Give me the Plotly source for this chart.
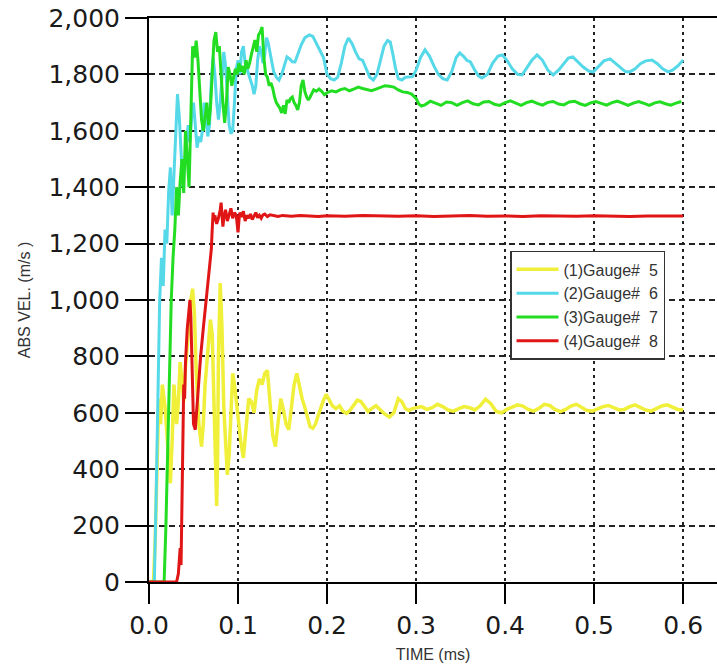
import plotly.graph_objects as go

# ---------------- data (time in ms, velocity in m/s) ----------------
series_names = ["(1)Gauge#\u00a0 5", "(2)Gauge#\u00a0 6", "(3)Gauge#\u00a0 7", "(4)Gauge#\u00a0 8"]
series_colors = ["#f0f03a", "#55d8e8", "#22dd22", "#e01515"]
series_widths = [3.5, 3, 3, 3]

t5 = [0, 0.005, 0.007, 0.009, 0.011, 0.013, 0.015, 0.018, 0.021, 0.024, 0.026, 0.028, 0.031, 0.033,
      0.035, 0.037, 0.039, 0.041, 0.044, 0.047, 0.049, 0.051, 0.053, 0.056, 0.059, 0.061, 0.063,
      0.065, 0.067, 0.069, 0.071, 0.073, 0.075, 0.076, 0.077, 0.078, 0.080, 0.082, 0.084, 0.086,
      0.088, 0.090, 0.092, 0.094, 0.096, 0.098, 0.100, 0.103, 0.106, 0.109, 0.112, 0.115, 0.118,
      0.121, 0.124, 0.127, 0.130, 0.133, 0.136, 0.139, 0.142, 0.145, 0.148, 0.151, 0.154, 0.157,
      0.160, 0.163, 0.166, 0.169, 0.172, 0.175, 0.178, 0.181, 0.184, 0.187, 0.190, 0.193, 0.196,
      0.199, 0.202, 0.206, 0.210, 0.214, 0.218, 0.222, 0.226, 0.230, 0.234, 0.238, 0.242, 0.246,
      0.250, 0.255, 0.260, 0.265, 0.270, 0.275, 0.280, 0.284, 0.288, 0.292, 0.296, 0.300, 0.306,
      0.312, 0.318, 0.324, 0.330, 0.336, 0.342, 0.348, 0.354, 0.360, 0.366, 0.372, 0.378, 0.384,
      0.390, 0.396, 0.402, 0.408, 0.414, 0.420, 0.426, 0.432, 0.438, 0.444, 0.450, 0.456, 0.462,
      0.468, 0.474, 0.480, 0.486, 0.492, 0.498, 0.504, 0.510, 0.516, 0.522, 0.528, 0.534, 0.540,
      0.546, 0.552, 0.558, 0.564, 0.570, 0.576, 0.582, 0.588, 0.594, 0.600]
v5 = [0, 0, 150, 420, 650, 560, 700, 620, 480, 350, 500, 700, 560, 640,
      780, 700, 640, 760, 880, 1000, 1040, 950, 750, 560, 480, 560, 700,
      790, 850, 930, 880, 600, 330, 270, 420, 800, 1060, 900, 620, 470,
      380, 450, 620, 740, 700, 640, 600, 500, 440, 560, 650, 640, 600,
      680, 720, 700, 740, 750, 640, 520, 480, 560, 650, 610, 560, 540,
      620, 700, 740, 690, 650, 620, 580, 550, 545, 560, 590, 620, 645,
      665, 650, 625, 615, 625, 605, 598, 610, 630, 645, 640, 620, 605,
      615, 625, 610, 595, 585, 600, 650, 640, 615, 608, 615, 618, 622,
      612, 618, 630, 622, 610, 606, 615, 622, 618, 610, 625, 648, 632,
      605, 600, 612, 620, 628, 624, 612, 606, 616, 630, 626, 612, 604,
      612, 624, 630, 620, 608, 606, 614, 622, 626, 618, 610, 612, 622,
      628, 620, 610, 606, 614, 624, 628, 620, 612, 610, 618]

t6 = [0, 0.006, 0.008, 0.010, 0.012, 0.014, 0.016, 0.018, 0.020, 0.022, 0.024, 0.026, 0.028,
      0.030, 0.032, 0.034, 0.036, 0.038, 0.040, 0.042, 0.044, 0.046, 0.048, 0.050, 0.052, 0.054,
      0.056, 0.058, 0.060, 0.062, 0.064, 0.066, 0.068, 0.070, 0.072, 0.074, 0.076, 0.078, 0.080,
      0.082, 0.084, 0.086, 0.088, 0.090, 0.092, 0.094, 0.096, 0.098, 0.100, 0.102, 0.104, 0.106,
      0.108, 0.110, 0.112, 0.114, 0.116, 0.118, 0.120, 0.122, 0.124, 0.126, 0.128, 0.130, 0.132,
      0.134, 0.137, 0.140, 0.143, 0.146, 0.149, 0.152, 0.155, 0.158, 0.161, 0.164, 0.167, 0.171,
      0.175, 0.180, 0.184, 0.188, 0.192, 0.196, 0.200, 0.204, 0.208, 0.212, 0.216, 0.220, 0.224,
      0.228, 0.232, 0.236, 0.240, 0.244, 0.248, 0.252, 0.256, 0.260, 0.264, 0.268, 0.271, 0.274,
      0.277, 0.280, 0.284, 0.288, 0.292, 0.296, 0.300, 0.305, 0.310, 0.315, 0.320, 0.325, 0.330,
      0.335, 0.340, 0.345, 0.349, 0.353, 0.357, 0.361, 0.366, 0.370, 0.374, 0.380, 0.386, 0.392,
      0.397, 0.402, 0.408, 0.414, 0.419, 0.424, 0.430, 0.436, 0.442, 0.448, 0.454, 0.460, 0.466,
      0.471, 0.476, 0.482, 0.488, 0.494, 0.499, 0.504, 0.511, 0.518, 0.524, 0.530, 0.535, 0.540,
      0.546, 0.552, 0.558, 0.565, 0.571, 0.577, 0.583, 0.588, 0.594, 0.600]
v6 = [0, 0, 300, 700, 1000, 1150, 1050, 1250, 1200, 1380, 1470, 1300, 1450,
      1600, 1730, 1650, 1500, 1400, 1480, 1560, 1620, 1560, 1650, 1700, 1620, 1540,
      1580, 1560, 1600, 1700, 1640, 1580, 1620, 1780, 1860, 1800, 1700, 1640, 1700,
      1800, 1880, 1830, 1720, 1620, 1590, 1600, 1700, 1820, 1850, 1800, 1880, 1900,
      1840, 1820, 1800, 1780, 1760, 1730, 1760, 1850, 1900, 1880, 1840, 1870, 1930,
      1910, 1860, 1810, 1790, 1780, 1800, 1830, 1862, 1855, 1845, 1844, 1870, 1905,
      1930, 1940, 1935, 1910, 1890, 1860, 1800, 1785, 1780, 1790, 1840, 1900, 1929,
      1910, 1880, 1855, 1850, 1820, 1790, 1780, 1800, 1850, 1900, 1920, 1915, 1870,
      1820, 1785, 1780, 1790, 1790, 1792, 1815, 1860, 1887, 1865, 1830, 1800, 1785,
      1780, 1810, 1860, 1876, 1865, 1850, 1844, 1815, 1795, 1787, 1800, 1840, 1865,
      1869, 1850, 1820, 1800, 1798, 1820, 1850, 1869, 1850, 1815, 1798, 1815, 1840,
      1858, 1862, 1845, 1825, 1812, 1809, 1825, 1848, 1855, 1840, 1822, 1810, 1809,
      1820, 1838, 1848, 1851, 1838, 1820, 1809, 1815, 1830, 1851]

t7 = [0, 0.017, 0.019, 0.021, 0.023, 0.025, 0.027, 0.029, 0.031, 0.033, 0.035, 0.037, 0.039,
      0.041, 0.043, 0.045, 0.047, 0.049, 0.051, 0.053, 0.055, 0.057, 0.059, 0.061, 0.063, 0.065,
      0.067, 0.069, 0.071, 0.073, 0.075, 0.077, 0.079, 0.081, 0.083, 0.085, 0.087, 0.089, 0.091,
      0.093, 0.095, 0.097, 0.099, 0.101, 0.103, 0.105, 0.107, 0.109, 0.111, 0.113, 0.115, 0.117,
      0.119, 0.121, 0.123, 0.125, 0.127, 0.129, 0.131, 0.133, 0.135, 0.137, 0.139, 0.141, 0.143,
      0.145, 0.147, 0.149, 0.151, 0.153, 0.155, 0.157, 0.159, 0.161, 0.163, 0.165, 0.167, 0.169,
      0.171, 0.173, 0.175, 0.177, 0.179, 0.181, 0.183, 0.185, 0.188, 0.191, 0.194, 0.197, 0.200,
      0.205, 0.210, 0.215, 0.220, 0.225, 0.230, 0.235, 0.240, 0.245, 0.250, 0.255, 0.260, 0.265,
      0.270, 0.275, 0.280, 0.285, 0.290, 0.295, 0.300, 0.303, 0.306, 0.310, 0.316, 0.322, 0.328,
      0.334, 0.340, 0.346, 0.352, 0.358, 0.364, 0.370, 0.376, 0.382, 0.388, 0.394, 0.400, 0.406,
      0.412, 0.418, 0.424, 0.430, 0.436, 0.442, 0.448, 0.454, 0.460, 0.466, 0.472, 0.478, 0.484,
      0.490, 0.496, 0.502, 0.508, 0.514, 0.520, 0.526, 0.532, 0.538, 0.544, 0.550, 0.556, 0.562,
      0.568, 0.574, 0.580, 0.586, 0.592, 0.598, 0.600]
v7 = [0, 0, 200, 500, 800, 1000, 1150, 1250, 1400, 1300, 1420, 1500, 1380,
      1600, 1500, 1400, 1650, 1900, 1860, 1920, 1850, 1750, 1640, 1600, 1660, 1700,
      1620, 1680, 1800, 1920, 1950, 1880, 1900, 1780, 1700, 1628, 1700, 1826, 1800,
      1760, 1790, 1820, 1800, 1840, 1810, 1830, 1800, 1850, 1820, 1840, 1870, 1900,
      1922, 1880, 1940, 1950, 1968, 1860, 1800, 1790, 1760, 1770, 1750, 1720, 1700,
      1690, 1680, 1663, 1690, 1660, 1709, 1700, 1715, 1720, 1700, 1690, 1674, 1700,
      1760, 1780, 1740, 1720, 1709, 1720, 1735, 1745, 1740, 1748, 1740, 1728, 1735,
      1742, 1738, 1746, 1750, 1742, 1748, 1755, 1750, 1745, 1742, 1748, 1755, 1760,
      1758, 1755, 1745, 1738, 1736, 1730, 1715, 1695, 1688, 1692, 1705, 1698, 1690,
      1702, 1700, 1690, 1700, 1706, 1696, 1692, 1702, 1704, 1694, 1690, 1700, 1706,
      1698, 1690, 1700, 1705, 1697, 1691, 1701, 1704, 1695, 1692, 1702, 1705, 1696,
      1690, 1699, 1704, 1697, 1691, 1700, 1705, 1698, 1690, 1698, 1704, 1697, 1690,
      1699, 1703, 1696, 1691, 1698, 1704]

t8 = [0, 0.031, 0.033, 0.035, 0.036, 0.037, 0.038, 0.039, 0.040, 0.041, 0.043, 0.045, 0.046,
      0.047, 0.048, 0.049, 0.050, 0.052, 0.055, 0.058, 0.061, 0.064, 0.066, 0.068, 0.070, 0.071,
      0.072, 0.073, 0.074, 0.076, 0.078, 0.080, 0.081, 0.082, 0.083, 0.084, 0.086, 0.088, 0.090,
      0.092, 0.094, 0.096, 0.098, 0.100, 0.101, 0.102, 0.104, 0.106, 0.108, 0.110, 0.112, 0.114,
      0.116, 0.118, 0.120, 0.122, 0.124, 0.126, 0.128, 0.130, 0.133, 0.136, 0.140, 0.145, 0.150,
      0.160, 0.170, 0.180, 0.190, 0.200, 0.220, 0.240, 0.260, 0.280, 0.300, 0.320, 0.340, 0.360,
      0.380, 0.400, 0.420, 0.440, 0.460, 0.480, 0.500, 0.520, 0.540, 0.560, 0.580, 0.600]
v8 = [0, 0, 30, 120, 60, 350, 500, 700, 650, 780, 900, 960, 1000,
      940, 800, 650, 560, 540, 680, 800, 900, 1000, 1050, 1120, 1180, 1250,
      1310, 1280, 1300, 1270, 1290, 1320, 1345, 1300, 1260, 1290, 1320, 1280, 1300,
      1325, 1290, 1310, 1300, 1240, 1280, 1310, 1295, 1315, 1280, 1300, 1290, 1305,
      1285, 1300, 1310, 1292, 1300, 1290, 1302, 1305, 1296, 1302, 1300, 1296, 1300,
      1297, 1300, 1298, 1296, 1299, 1297, 1300, 1298, 1297, 1299, 1296, 1298, 1300,
      1297, 1298, 1296, 1299, 1298, 1297, 1299, 1298, 1296, 1298, 1297, 1298]

all_t = [t5, t6, t7, t8]
all_v = [v5, v6, v7, v8]

y_ticks = [0, 200, 400, 600, 800, 1000, 1200, 1400, 1600, 1800, 2000]
x_ticks = [0.0, 0.1, 0.2, 0.3, 0.4, 0.5, 0.6]

# ---------------- figure ----------------
fig = go.Figure()
for name, color, w, tt, vv in zip(series_names, series_colors, series_widths, all_t, all_v):
    fig.add_trace(go.Scatter(x=tt, y=vv, mode="lines", name=name,
                             line=dict(color=color, width=w)))

tick_font = dict(family="DejaVu Sans", size=25, color="#1a1a1a")

fig.update_layout(
    width=717, height=669,
    margin=dict(l=149, r=0, t=18, b=87),
    plot_bgcolor="white", paper_bgcolor="white",
    showlegend=True,
    legend=dict(
        x=0.6356, y=0.587, xanchor="left", yanchor="top",
        bgcolor="white", bordercolor="#333333", borderwidth=1.5,
        font=dict(family="Liberation Sans, Arial", size=16, color="#333333"),
        itemwidth=42,
    ),
)

fig.update_xaxes(
    range=[0, 0.638], tickvals=x_ticks, tickformat=".1f",
    showline=True, linecolor="black", linewidth=2, mirror=True,
    ticks="outside", ticklen=20, tickwidth=2, tickcolor="black",
    tickfont=tick_font,
    showgrid=True, gridcolor="#222222", gridwidth=1.5, griddash="3px,4px",
    zeroline=False,
    title=dict(text="TIME (ms)", font=dict(family="Liberation Sans, Arial", size=16, color="#333333"), standoff=10),
)
fig.update_yaxes(
    range=[0, 2000], tickvals=y_ticks, tickformat=",d",
    showline=True, linecolor="black", linewidth=2,
    ticks="outside", ticklen=22, tickwidth=2, tickcolor="black",
    tickfont=tick_font,
    showgrid=True, gridcolor="#222222", gridwidth=1.5, griddash="6px,4px",
    zeroline=False,
    title=dict(text="ABS VEL. (m/s )", font=dict(family="Liberation Sans, Arial", size=16, color="#333333"), standoff=14),
)

fig.write_html("out.html")
